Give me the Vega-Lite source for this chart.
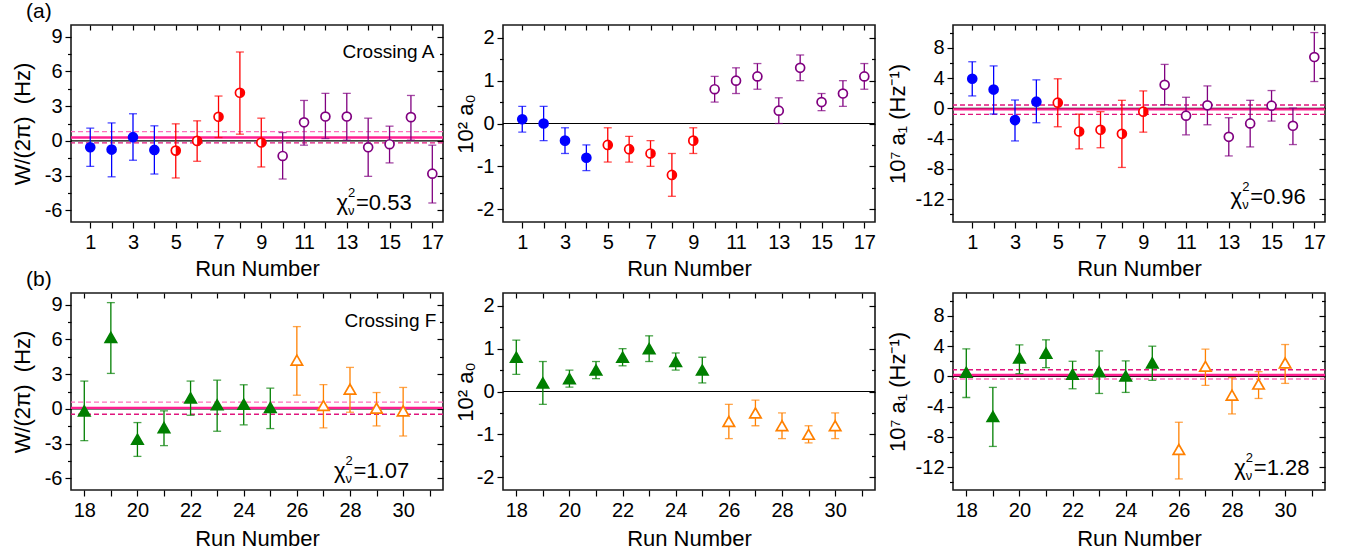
{
  "$schema": "https://vega.github.io/schema/vega-lite/v6.json",
  "background": "white",
  "padding": {"left": 10, "top": 0, "right": 5, "bottom": 2},
  "datasets": {
    "runs": [
      {"panel": "W", "run": 1, "set": "A1", "v": -0.55, "lo": -2.2, "hi": 1.1},
      {"panel": "W", "run": 2, "set": "A1", "v": -0.75, "lo": -3.1, "hi": 1.55},
      {"panel": "W", "run": 3, "set": "A1", "v": 0.32, "lo": -1.67, "hi": 2.34},
      {"panel": "W", "run": 4, "set": "A1", "v": -0.78, "lo": -2.86, "hi": 1.3},
      {"panel": "W", "run": 5, "set": "A2", "v": -0.84, "lo": -3.2, "hi": 1.47},
      {"panel": "W", "run": 6, "set": "A2", "v": 0.0, "lo": -1.76, "hi": 1.73},
      {"panel": "W", "run": 7, "set": "A2", "v": 2.08, "lo": 0.29, "hi": 3.87},
      {"panel": "W", "run": 8, "set": "A2", "v": 4.15, "lo": 0.58, "hi": 7.67},
      {"panel": "W", "run": 9, "set": "A2", "v": -0.14, "lo": -2.25, "hi": 1.96},
      {"panel": "W", "run": 10, "set": "A3", "v": -1.3, "lo": -3.29, "hi": 0.72},
      {"panel": "W", "run": 11, "set": "A3", "v": 1.6, "lo": -0.37, "hi": 3.49},
      {"panel": "W", "run": 12, "set": "A3", "v": 2.1, "lo": 0.2, "hi": 4.1},
      {"panel": "W", "run": 13, "set": "A3", "v": 2.1, "lo": 0.06, "hi": 4.1},
      {"panel": "W", "run": 14, "set": "A3", "v": -0.55, "lo": -3.06, "hi": 1.96},
      {"panel": "W", "run": 15, "set": "A3", "v": -0.29, "lo": -1.9, "hi": 1.27},
      {"panel": "W", "run": 16, "set": "A3", "v": 2.05, "lo": 0.06, "hi": 3.92},
      {"panel": "W", "run": 17, "set": "A3", "v": -2.83, "lo": -5.36, "hi": -0.37},
      {"panel": "W", "run": 18, "set": "F1", "v": -0.17, "lo": -2.74, "hi": 2.4},
      {"panel": "W", "run": 19, "set": "F1", "v": 6.17, "lo": 3.06, "hi": 9.17},
      {"panel": "W", "run": 20, "set": "F1", "v": -2.62, "lo": -4.1, "hi": -1.18},
      {"panel": "W", "run": 21, "set": "F1", "v": -1.62, "lo": -3.17, "hi": -0.17},
      {"panel": "W", "run": 22, "set": "F1", "v": 0.95, "lo": -0.55, "hi": 2.4},
      {"panel": "W", "run": 23, "set": "F1", "v": 0.35, "lo": -1.93, "hi": 2.48},
      {"panel": "W", "run": 24, "set": "F1", "v": 0.4, "lo": -1.38, "hi": 2.08},
      {"panel": "W", "run": 25, "set": "F1", "v": 0.12, "lo": -1.7, "hi": 1.79},
      {"panel": "W", "run": 26, "set": "F2", "v": 4.21, "lo": 1.18, "hi": 7.1},
      {"panel": "W", "run": 27, "set": "F2", "v": 0.29, "lo": -1.64, "hi": 2.1},
      {"panel": "W", "run": 28, "set": "F2", "v": 1.7, "lo": -0.29, "hi": 3.58},
      {"panel": "W", "run": 29, "set": "F2", "v": 0.06, "lo": -1.47, "hi": 1.41},
      {"panel": "W", "run": 30, "set": "F2", "v": -0.17, "lo": -2.34, "hi": 1.85},
      {"panel": "a0", "run": 1, "set": "A1", "v": 0.1, "lo": -0.2, "hi": 0.4},
      {"panel": "a0", "run": 2, "set": "A1", "v": 0.0, "lo": -0.4, "hi": 0.4},
      {"panel": "a0", "run": 3, "set": "A1", "v": -0.4, "lo": -0.7, "hi": -0.1},
      {"panel": "a0", "run": 4, "set": "A1", "v": -0.8, "lo": -1.1, "hi": -0.5},
      {"panel": "a0", "run": 5, "set": "A2", "v": -0.5, "lo": -0.9, "hi": -0.1},
      {"panel": "a0", "run": 6, "set": "A2", "v": -0.6, "lo": -0.9, "hi": -0.3},
      {"panel": "a0", "run": 7, "set": "A2", "v": -0.7, "lo": -1.0, "hi": -0.4},
      {"panel": "a0", "run": 8, "set": "A2", "v": -1.2, "lo": -1.7, "hi": -0.7},
      {"panel": "a0", "run": 9, "set": "A2", "v": -0.4, "lo": -0.7, "hi": -0.1},
      {"panel": "a0", "run": 10, "set": "A3", "v": 0.8, "lo": 0.5, "hi": 1.1},
      {"panel": "a0", "run": 11, "set": "A3", "v": 1.0, "lo": 0.7, "hi": 1.3},
      {"panel": "a0", "run": 12, "set": "A3", "v": 1.1, "lo": 0.8, "hi": 1.4},
      {"panel": "a0", "run": 13, "set": "A3", "v": 0.3, "lo": 0.0, "hi": 0.6},
      {"panel": "a0", "run": 14, "set": "A3", "v": 1.3, "lo": 1.0, "hi": 1.6},
      {"panel": "a0", "run": 15, "set": "A3", "v": 0.5, "lo": 0.3, "hi": 0.7},
      {"panel": "a0", "run": 16, "set": "A3", "v": 0.7, "lo": 0.4, "hi": 1.0},
      {"panel": "a0", "run": 17, "set": "A3", "v": 1.1, "lo": 0.8, "hi": 1.4},
      {"panel": "a0", "run": 18, "set": "F1", "v": 0.8, "lo": 0.4, "hi": 1.2},
      {"panel": "a0", "run": 19, "set": "F1", "v": 0.2, "lo": -0.3, "hi": 0.7},
      {"panel": "a0", "run": 20, "set": "F1", "v": 0.3, "lo": 0.1, "hi": 0.5},
      {"panel": "a0", "run": 21, "set": "F1", "v": 0.5, "lo": 0.3, "hi": 0.7},
      {"panel": "a0", "run": 22, "set": "F1", "v": 0.8, "lo": 0.6, "hi": 1.0},
      {"panel": "a0", "run": 23, "set": "F1", "v": 1.0, "lo": 0.7, "hi": 1.3},
      {"panel": "a0", "run": 24, "set": "F1", "v": 0.7, "lo": 0.5, "hi": 0.9},
      {"panel": "a0", "run": 25, "set": "F1", "v": 0.5, "lo": 0.2, "hi": 0.8},
      {"panel": "a0", "run": 26, "set": "F2", "v": -0.7, "lo": -1.1, "hi": -0.3},
      {"panel": "a0", "run": 27, "set": "F2", "v": -0.5, "lo": -0.8, "hi": -0.2},
      {"panel": "a0", "run": 28, "set": "F2", "v": -0.8, "lo": -1.1, "hi": -0.5},
      {"panel": "a0", "run": 29, "set": "F2", "v": -1.0, "lo": -1.2, "hi": -0.8},
      {"panel": "a0", "run": 30, "set": "F2", "v": -0.8, "lo": -1.1, "hi": -0.5},
      {"panel": "a1", "run": 1, "set": "A1", "v": 3.9, "lo": 1.64, "hi": 6.15},
      {"panel": "a1", "run": 2, "set": "A1", "v": 2.48, "lo": -0.75, "hi": 5.6},
      {"panel": "a1", "run": 3, "set": "A1", "v": -1.55, "lo": -4.3, "hi": 1.1},
      {"panel": "a1", "run": 4, "set": "A1", "v": 0.88, "lo": -1.9, "hi": 3.76},
      {"panel": "a1", "run": 5, "set": "A2", "v": 0.75, "lo": -2.43, "hi": 3.9},
      {"panel": "a1", "run": 6, "set": "A2", "v": -3.05, "lo": -5.35, "hi": -0.75},
      {"panel": "a1", "run": 7, "set": "A2", "v": -2.83, "lo": -5.2, "hi": -0.44},
      {"panel": "a1", "run": 8, "set": "A2", "v": -3.36, "lo": -7.8, "hi": 1.06},
      {"panel": "a1", "run": 9, "set": "A2", "v": -0.44, "lo": -3.14, "hi": 2.3},
      {"panel": "a1", "run": 10, "set": "A3", "v": 3.1, "lo": 0.49, "hi": 5.8},
      {"panel": "a1", "run": 11, "set": "A3", "v": -0.97, "lo": -3.5, "hi": 1.46},
      {"panel": "a1", "run": 12, "set": "A3", "v": 0.4, "lo": -2.17, "hi": 2.96},
      {"panel": "a1", "run": 13, "set": "A3", "v": -3.76, "lo": -6.28, "hi": -1.24},
      {"panel": "a1", "run": 14, "set": "A3", "v": -1.99, "lo": -5.09, "hi": 1.06},
      {"panel": "a1", "run": 15, "set": "A3", "v": 0.35, "lo": -1.68, "hi": 2.35},
      {"panel": "a1", "run": 16, "set": "A3", "v": -2.3, "lo": -4.78, "hi": 0.04},
      {"panel": "a1", "run": 17, "set": "A3", "v": 6.77, "lo": 3.54, "hi": 10.0},
      {"panel": "a1", "run": 18, "set": "F1", "v": 0.53, "lo": -2.79, "hi": 3.63},
      {"panel": "a1", "run": 19, "set": "F1", "v": -5.3, "lo": -9.25, "hi": -1.46},
      {"panel": "a1", "run": 20, "set": "F1", "v": 2.43, "lo": 0.35, "hi": 4.16},
      {"panel": "a1", "run": 21, "set": "F1", "v": 3.05, "lo": 1.15, "hi": 4.82},
      {"panel": "a1", "run": 22, "set": "F1", "v": 0.27, "lo": -1.64, "hi": 1.99},
      {"panel": "a1", "run": 23, "set": "F1", "v": 0.62, "lo": -2.26, "hi": 3.36},
      {"panel": "a1", "run": 24, "set": "F1", "v": 0.04, "lo": -2.12, "hi": 2.04},
      {"panel": "a1", "run": 25, "set": "F1", "v": 1.77, "lo": -0.53, "hi": 3.98},
      {"panel": "a1", "run": 26, "set": "F2", "v": -9.65, "lo": -13.54, "hi": -6.06},
      {"panel": "a1", "run": 27, "set": "F2", "v": 1.33, "lo": -1.19, "hi": 3.58},
      {"panel": "a1", "run": 28, "set": "F2", "v": -2.48, "lo": -4.96, "hi": -0.18},
      {"panel": "a1", "run": 29, "set": "F2", "v": -1.02, "lo": -2.92, "hi": 0.62},
      {"panel": "a1", "run": 30, "set": "F2", "v": 1.77, "lo": -0.93, "hi": 4.2}
    ],
    "lines": [
      {"panel": "W", "row": "A", "kind": "zero", "v": 0},
      {"panel": "W", "row": "A", "kind": "fit", "v": 0.29},
      {"panel": "W", "row": "A", "kind": "hi", "v": 0.8},
      {"panel": "W", "row": "A", "kind": "lo", "v": -0.17},
      {"panel": "a0", "row": "A", "kind": "zero", "v": 0},
      {"panel": "a1", "row": "A", "kind": "zero", "v": 0},
      {"panel": "a1", "row": "A", "kind": "fit", "v": -0.13},
      {"panel": "a1", "row": "A", "kind": "hi", "v": 0.44},
      {"panel": "a1", "row": "A", "kind": "lo", "v": -0.8},
      {"panel": "W", "row": "F", "kind": "zero", "v": 0},
      {"panel": "W", "row": "F", "kind": "fit", "v": 0.09},
      {"panel": "W", "row": "F", "kind": "hi", "v": 0.58},
      {"panel": "W", "row": "F", "kind": "lo", "v": -0.46},
      {"panel": "a0", "row": "F", "kind": "zero", "v": 0},
      {"panel": "a1", "row": "F", "kind": "zero", "v": 0},
      {"panel": "a1", "row": "F", "kind": "fit", "v": 0.18},
      {"panel": "a1", "row": "F", "kind": "hi", "v": 0.88},
      {"panel": "a1", "row": "F", "kind": "lo", "v": -0.35}
    ],
    "notes": [
      {"panel": "W", "row": "A", "kind": "label", "x": 17.1, "y": 7.7, "text": "Crossing A"},
      {"panel": "W", "row": "F", "kind": "label", "x": 31.25, "y": 7.6, "text": "Crossing F"},
      {"panel": "W", "row": "A", "kind": "chi", "x": 13.43, "y": -5.4, "text": "=0.53"},
      {"panel": "a1", "row": "A", "kind": "chi", "x": 14.0, "y": -11.7, "text": "=0.96"},
      {"panel": "W", "row": "F", "kind": "chi", "x": 28.13, "y": -5.37, "text": "=1.07"},
      {"panel": "a1", "row": "F", "kind": "chi", "x": 28.82, "y": -12.08, "text": "=1.28"}
    ]
  },
  "config": {
    "font": "Liberation Sans",
    "view": {"stroke": "#1a1a1a", "strokeWidth": 1.6},
    "axis": {
      "domain": false, "grid": false,
      "labelFont": "Liberation Sans", "labelFontSize": 20, "labelColor": "#000000",
      "titleFont": "Liberation Sans", "titleFontSize": 22, "titleFontWeight": "normal", "titleColor": "#000000",
      "tickColor": "#000000", "tickWidth": 1.2, "labelOverlap": false
    },
    "title": {"font": "Liberation Sans", "fontSize": 21, "fontWeight": "normal", "color": "#000000"},
    "text": {"font": "Liberation Sans", "color": "#000000"}
  },
  "columns": 3,
  "spacing": {"row": -12, "column": 8},
  "concat": [
    {
      "width": 372, "height": 197,
      "title": {"text": "(a)", "anchor": "start", "frame": "group", "dx": -45, "offset": 2},
      "layer": [
        {"data": {"name": "lines"}, "transform": [{"filter": "datum.panel=='W' && datum.row=='A' && datum.kind=='zero'"}], "mark": {"type": "rule", "color": "#000000", "strokeWidth": 1.2}, "encoding": {"y": {"field": "v", "type": "quantitative", "scale": {"domain": [-7, 10], "nice": false, "zero": false}, "axis": null}}},
        {"data": {"name": "lines"}, "transform": [{"filter": "datum.panel=='W' && datum.row=='A' && datum.kind=='fit'"}], "mark": {"type": "rule", "color": "#ff2090", "strokeWidth": 2.4}, "encoding": {"y": {"field": "v", "type": "quantitative", "axis": null}}},
        {"data": {"name": "lines"}, "transform": [{"filter": "datum.panel=='W' && datum.row=='A' && datum.kind=='hi'"}], "mark": {"type": "rule", "color": "#ff70bd", "strokeWidth": 1.4, "strokeDash": [5, 3]}, "encoding": {"y": {"field": "v", "type": "quantitative", "axis": null}}},
        {"data": {"name": "lines"}, "transform": [{"filter": "datum.panel=='W' && datum.row=='A' && datum.kind=='lo'"}], "mark": {"type": "rule", "color": "#e0167e", "strokeWidth": 1.4, "strokeDash": [5, 3]}, "encoding": {"y": {"field": "v", "type": "quantitative", "axis": null}}},
        {"data": {"name": "runs"}, "transform": [{"filter": "datum.panel=='W' && datum.run<=17"}], "mark": {"type": "rule", "strokeWidth": 1.3},
          "encoding": {
            "x": {"field": "run", "type": "quantitative", "scale": {"domain": [0.1, 17.5], "nice": false, "zero": false}, "axis": {"orient": "top", "values": [1,2,3,4,5,6,7,8,9,10,11,12,13,14,15,16,17], "labels": false, "title": null, "tickSize": -5}},
            "y": {"field": "lo", "type": "quantitative", "axis": {"orient": "right", "values": [-6,-4.5,-3,-1.5,0,1.5,3,4.5,6,7.5,9], "labels": false, "title": null, "tickSize": {"condition": {"test": "datum.value % 3 != 0", "value": -3.5}, "value": -6}}},
            "y2": {"field": "hi"},
            "color": {"field": "set", "type": "nominal", "scale": {"domain": ["A1","A2","A3","F1","F2"], "range": ["#0000ff","#ff0000","#800080","#007f00","#ff8000"]}, "legend": null}
          }},
        {"data": {"name": "runs"}, "transform": [{"filter": "datum.panel=='W' && datum.run<=17"}], "mark": {"type": "tick", "orient": "horizontal", "size": 8, "thickness": 1.3},
          "encoding": {"x": {"field": "run", "type": "quantitative", "axis": null}, "y": {"field": "lo", "type": "quantitative", "axis": null}, "color": {"field": "set", "type": "nominal", "legend": null}}},
        {"data": {"name": "runs"}, "transform": [{"filter": "datum.panel=='W' && datum.run<=17"}], "mark": {"type": "tick", "orient": "horizontal", "size": 8, "thickness": 1.3},
          "encoding": {"x": {"field": "run", "type": "quantitative", "axis": null}, "y": {"field": "hi", "type": "quantitative", "axis": null}, "color": {"field": "set", "type": "nominal", "legend": null}}},
        {"data": {"name": "runs"}, "transform": [{"filter": "datum.panel=='W' && datum.run<=17"}], "mark": {"type": "point", "filled": true, "strokeWidth": 1.7, "opacity": 1},
          "encoding": {
            "x": {"field": "run", "type": "quantitative", "axis": {"orient": "bottom", "values": [1,2,3,4,5,6,7,8,9,10,11,12,13,14,15,16,17], "labelExpr": "datum.value % 2 == 1 ? toString(datum.value) : ''", "title": "Run Number", "tickSize": 6, "labelPadding": 4, "titlePadding": 6}},
            "y": {"field": "v", "type": "quantitative", "axis": {"orient": "left", "values": [-6,-4.5,-3,-1.5,0,1.5,3,4.5,6,7.5,9], "labelExpr": "datum.value % 3 == 0 ? toString(datum.value) : ''", "title": "W/(2π)\u00a0\u00a0(Hz)", "tickSize": {"condition": {"test": "datum.value % 3 != 0", "value": 3.5}, "value": 6}, "labelPadding": 3, "titlePadding": 10}},
            "shape": {"condition": {"test": "datum.run >= 18", "value": "triangle-up"}, "value": "circle"},
            "size": {"condition": {"test": "datum.run >= 18", "value": 130}, "value": 80},
            "fill": {"field": "set", "type": "nominal", "scale": {"domain": ["A1","A2","A3","F1","F2"], "range": ["#0000ff","#ffffff","#ffffff","#007f00","#ffffff"]}, "legend": null},
            "stroke": {"field": "set", "type": "nominal", "scale": {"domain": ["A1","A2","A3","F1","F2"], "range": ["#0000ff","#ff0000","#800080","#007f00","#ff8000"]}, "legend": null}
          }},
        {"data": {"name": "runs"}, "transform": [{"filter": "datum.panel=='W' && datum.set=='A2'"}], "mark": {"type": "point", "shape": "M0,-1L0.259,-0.966L0.5,-0.866L0.707,-0.707L0.866,-0.5L0.966,-0.259L1,0L0.966,0.259L0.866,0.5L0.707,0.707L0.5,0.866L0.259,0.966L0,1Z", "filled": true, "color": "#ff0000", "size": 80, "strokeWidth": 0, "opacity": 1},
          "encoding": {"x": {"field": "run", "type": "quantitative", "axis": null}, "y": {"field": "v", "type": "quantitative", "axis": null}}},
        {"data": {"name": "notes"}, "transform": [{"filter": "datum.panel=='W' && datum.row=='A' && datum.kind=='label'"}], "mark": {"type": "text", "align": "right", "baseline": "middle", "fontSize": 19},
          "encoding": {"x": {"field": "x", "type": "quantitative", "axis": null}, "y": {"field": "y", "type": "quantitative", "axis": null}, "text": {"field": "text"}}},
        {"data": {"name": "notes"}, "transform": [{"filter": "datum.panel=='W' && datum.row=='A' && datum.kind=='chi'"}], "mark": {"type": "text", "align": "left", "baseline": "middle", "fontSize": 22},
          "encoding": {"x": {"field": "x", "type": "quantitative", "axis": null}, "y": {"field": "y", "type": "quantitative", "axis": null}, "text": {"field": "text"}}},
        {"data": {"name": "notes"}, "transform": [{"filter": "datum.panel=='W' && datum.row=='A' && datum.kind=='chi'"}], "mark": {"type": "text", "align": "right", "baseline": "middle", "fontSize": 22, "dx": -8},
          "encoding": {"x": {"field": "x", "type": "quantitative", "axis": null}, "y": {"field": "y", "type": "quantitative", "axis": null}, "text": {"value": "χ"}}},
        {"data": {"name": "notes"}, "transform": [{"filter": "datum.panel=='W' && datum.row=='A' && datum.kind=='chi'"}], "mark": {"type": "text", "align": "left", "baseline": "middle", "fontSize": 13, "dx": -8, "dy": -10},
          "encoding": {"x": {"field": "x", "type": "quantitative", "axis": null}, "y": {"field": "y", "type": "quantitative", "axis": null}, "text": {"value": "2"}}},
        {"data": {"name": "notes"}, "transform": [{"filter": "datum.panel=='W' && datum.row=='A' && datum.kind=='chi'"}], "mark": {"type": "text", "align": "left", "baseline": "middle", "fontSize": 13, "dx": -8, "dy": 8},
          "encoding": {"x": {"field": "x", "type": "quantitative", "axis": null}, "y": {"field": "y", "type": "quantitative", "axis": null}, "text": {"value": "ν"}}}
      ],
      "resolve": {"axis": {"x": "independent", "y": "independent"}}
    },
    {
      "width": 372, "height": 197,
      "layer": [
        {"data": {"name": "lines"}, "transform": [{"filter": "datum.panel=='a0' && datum.row=='A' && datum.kind=='zero'"}], "mark": {"type": "rule", "color": "#000000", "strokeWidth": 1.2}, "encoding": {"y": {"field": "v", "type": "quantitative", "scale": {"domain": [-2.3, 2.3], "nice": false, "zero": false}, "axis": null}}},
        {"data": {"name": "runs"}, "transform": [{"filter": "datum.panel=='a0' && datum.run<=17"}], "mark": {"type": "rule", "strokeWidth": 1.3},
          "encoding": {
            "x": {"field": "run", "type": "quantitative", "scale": {"domain": [0.1, 17.5], "nice": false, "zero": false}, "axis": {"orient": "top", "values": [1,2,3,4,5,6,7,8,9,10,11,12,13,14,15,16,17], "labels": false, "title": null, "tickSize": -5}},
            "y": {"field": "lo", "type": "quantitative", "axis": {"orient": "right", "values": [-2,-1.5,-1,-0.5,0,0.5,1,1.5,2], "labels": false, "title": null, "tickSize": {"condition": {"test": "datum.value % 1 != 0", "value": -3.5}, "value": -6}}},
            "y2": {"field": "hi"},
            "color": {"field": "set", "type": "nominal", "scale": {"domain": ["A1","A2","A3","F1","F2"], "range": ["#0000ff","#ff0000","#800080","#007f00","#ff8000"]}, "legend": null}
          }},
        {"data": {"name": "runs"}, "transform": [{"filter": "datum.panel=='a0' && datum.run<=17"}], "mark": {"type": "tick", "orient": "horizontal", "size": 8, "thickness": 1.3},
          "encoding": {"x": {"field": "run", "type": "quantitative", "axis": null}, "y": {"field": "lo", "type": "quantitative", "axis": null}, "color": {"field": "set", "type": "nominal", "legend": null}}},
        {"data": {"name": "runs"}, "transform": [{"filter": "datum.panel=='a0' && datum.run<=17"}], "mark": {"type": "tick", "orient": "horizontal", "size": 8, "thickness": 1.3},
          "encoding": {"x": {"field": "run", "type": "quantitative", "axis": null}, "y": {"field": "hi", "type": "quantitative", "axis": null}, "color": {"field": "set", "type": "nominal", "legend": null}}},
        {"data": {"name": "runs"}, "transform": [{"filter": "datum.panel=='a0' && datum.run<=17"}], "mark": {"type": "point", "filled": true, "strokeWidth": 1.7, "opacity": 1},
          "encoding": {
            "x": {"field": "run", "type": "quantitative", "axis": {"orient": "bottom", "values": [1,2,3,4,5,6,7,8,9,10,11,12,13,14,15,16,17], "labelExpr": "datum.value % 2 == 1 ? toString(datum.value) : ''", "title": "Run Number", "tickSize": 6, "labelPadding": 4, "titlePadding": 6}},
            "y": {"field": "v", "type": "quantitative", "axis": {"orient": "left", "values": [-2,-1.5,-1,-0.5,0,0.5,1,1.5,2], "labelExpr": "datum.value % 1 == 0 ? toString(datum.value) : ''", "title": "10² a₀", "tickSize": {"condition": {"test": "datum.value % 1 != 0", "value": 3.5}, "value": 6}, "labelPadding": 3, "titlePadding": -1}},
            "shape": {"condition": {"test": "datum.run >= 18", "value": "triangle-up"}, "value": "circle"},
            "size": {"condition": {"test": "datum.run >= 18", "value": 130}, "value": 80},
            "fill": {"field": "set", "type": "nominal", "scale": {"domain": ["A1","A2","A3","F1","F2"], "range": ["#0000ff","#ffffff","#ffffff","#007f00","#ffffff"]}, "legend": null},
            "stroke": {"field": "set", "type": "nominal", "scale": {"domain": ["A1","A2","A3","F1","F2"], "range": ["#0000ff","#ff0000","#800080","#007f00","#ff8000"]}, "legend": null}
          }},
        {"data": {"name": "runs"}, "transform": [{"filter": "datum.panel=='a0' && datum.set=='A2'"}], "mark": {"type": "point", "shape": "M0,-1L0.259,-0.966L0.5,-0.866L0.707,-0.707L0.866,-0.5L0.966,-0.259L1,0L0.966,0.259L0.866,0.5L0.707,0.707L0.5,0.866L0.259,0.966L0,1Z", "filled": true, "color": "#ff0000", "size": 80, "strokeWidth": 0, "opacity": 1},
          "encoding": {"x": {"field": "run", "type": "quantitative", "axis": null}, "y": {"field": "v", "type": "quantitative", "axis": null}}}
      ],
      "resolve": {"axis": {"x": "independent", "y": "independent"}}
    },
    {
      "width": 372, "height": 197,
      "layer": [
        {"data": {"name": "lines"}, "transform": [{"filter": "datum.panel=='a1' && datum.row=='A' && datum.kind=='zero'"}], "mark": {"type": "rule", "color": "#000000", "strokeWidth": 1.2}, "encoding": {"y": {"field": "v", "type": "quantitative", "scale": {"domain": [-15, 11], "nice": false, "zero": false}, "axis": null}}},
        {"data": {"name": "lines"}, "transform": [{"filter": "datum.panel=='a1' && datum.row=='A' && datum.kind=='fit'"}], "mark": {"type": "rule", "color": "#ff2090", "strokeWidth": 2.4}, "encoding": {"y": {"field": "v", "type": "quantitative", "axis": null}}},
        {"data": {"name": "lines"}, "transform": [{"filter": "datum.panel=='a1' && datum.row=='A' && datum.kind=='hi'"}], "mark": {"type": "rule", "color": "#e0167e", "strokeWidth": 1.4, "strokeDash": [5, 3]}, "encoding": {"y": {"field": "v", "type": "quantitative", "axis": null}}},
        {"data": {"name": "lines"}, "transform": [{"filter": "datum.panel=='a1' && datum.row=='A' && datum.kind=='lo'"}], "mark": {"type": "rule", "color": "#e0167e", "strokeWidth": 1.4, "strokeDash": [5, 3]}, "encoding": {"y": {"field": "v", "type": "quantitative", "axis": null}}},
        {"data": {"name": "runs"}, "transform": [{"filter": "datum.panel=='a1' && datum.run<=17"}], "mark": {"type": "rule", "strokeWidth": 1.3},
          "encoding": {
            "x": {"field": "run", "type": "quantitative", "scale": {"domain": [0.1, 17.5], "nice": false, "zero": false}, "axis": {"orient": "top", "values": [1,2,3,4,5,6,7,8,9,10,11,12,13,14,15,16,17], "labels": false, "title": null, "tickSize": -5}},
            "y": {"field": "lo", "type": "quantitative", "axis": {"orient": "right", "values": [-14,-12,-10,-8,-6,-4,-2,0,2,4,6,8,10], "labels": false, "title": null, "tickSize": {"condition": {"test": "datum.value % 4 != 0", "value": -3.5}, "value": -6}}},
            "y2": {"field": "hi"},
            "color": {"field": "set", "type": "nominal", "scale": {"domain": ["A1","A2","A3","F1","F2"], "range": ["#0000ff","#ff0000","#800080","#007f00","#ff8000"]}, "legend": null}
          }},
        {"data": {"name": "runs"}, "transform": [{"filter": "datum.panel=='a1' && datum.run<=17"}], "mark": {"type": "tick", "orient": "horizontal", "size": 8, "thickness": 1.3},
          "encoding": {"x": {"field": "run", "type": "quantitative", "axis": null}, "y": {"field": "lo", "type": "quantitative", "axis": null}, "color": {"field": "set", "type": "nominal", "legend": null}}},
        {"data": {"name": "runs"}, "transform": [{"filter": "datum.panel=='a1' && datum.run<=17"}], "mark": {"type": "tick", "orient": "horizontal", "size": 8, "thickness": 1.3},
          "encoding": {"x": {"field": "run", "type": "quantitative", "axis": null}, "y": {"field": "hi", "type": "quantitative", "axis": null}, "color": {"field": "set", "type": "nominal", "legend": null}}},
        {"data": {"name": "runs"}, "transform": [{"filter": "datum.panel=='a1' && datum.run<=17"}], "mark": {"type": "point", "filled": true, "strokeWidth": 1.7, "opacity": 1},
          "encoding": {
            "x": {"field": "run", "type": "quantitative", "axis": {"orient": "bottom", "values": [1,2,3,4,5,6,7,8,9,10,11,12,13,14,15,16,17], "labelExpr": "datum.value % 2 == 1 ? toString(datum.value) : ''", "title": "Run Number", "tickSize": 6, "labelPadding": 4, "titlePadding": 6}},
            "y": {"field": "v", "type": "quantitative", "axis": {"orient": "left", "values": [-14,-12,-10,-8,-6,-4,-2,0,2,4,6,8,10], "labelExpr": "datum.value % 4 == 0 ? toString(datum.value) : ''", "title": "10⁷ a₁ (Hz⁻¹)", "tickSize": {"condition": {"test": "datum.value % 4 != 0", "value": 3.5}, "value": 6}, "labelPadding": 3, "titlePadding": 6}},
            "shape": {"condition": {"test": "datum.run >= 18", "value": "triangle-up"}, "value": "circle"},
            "size": {"condition": {"test": "datum.run >= 18", "value": 130}, "value": 80},
            "fill": {"field": "set", "type": "nominal", "scale": {"domain": ["A1","A2","A3","F1","F2"], "range": ["#0000ff","#ffffff","#ffffff","#007f00","#ffffff"]}, "legend": null},
            "stroke": {"field": "set", "type": "nominal", "scale": {"domain": ["A1","A2","A3","F1","F2"], "range": ["#0000ff","#ff0000","#800080","#007f00","#ff8000"]}, "legend": null}
          }},
        {"data": {"name": "runs"}, "transform": [{"filter": "datum.panel=='a1' && datum.set=='A2'"}], "mark": {"type": "point", "shape": "M0,-1L0.259,-0.966L0.5,-0.866L0.707,-0.707L0.866,-0.5L0.966,-0.259L1,0L0.966,0.259L0.866,0.5L0.707,0.707L0.5,0.866L0.259,0.966L0,1Z", "filled": true, "color": "#ff0000", "size": 80, "strokeWidth": 0, "opacity": 1},
          "encoding": {"x": {"field": "run", "type": "quantitative", "axis": null}, "y": {"field": "v", "type": "quantitative", "axis": null}}},
        {"data": {"name": "notes"}, "transform": [{"filter": "datum.panel=='a1' && datum.row=='A' && datum.kind=='chi'"}], "mark": {"type": "text", "align": "left", "baseline": "middle", "fontSize": 22},
          "encoding": {"x": {"field": "x", "type": "quantitative", "axis": null}, "y": {"field": "y", "type": "quantitative", "axis": null}, "text": {"field": "text"}}},
        {"data": {"name": "notes"}, "transform": [{"filter": "datum.panel=='a1' && datum.row=='A' && datum.kind=='chi'"}], "mark": {"type": "text", "align": "right", "baseline": "middle", "fontSize": 22, "dx": -8},
          "encoding": {"x": {"field": "x", "type": "quantitative", "axis": null}, "y": {"field": "y", "type": "quantitative", "axis": null}, "text": {"value": "χ"}}},
        {"data": {"name": "notes"}, "transform": [{"filter": "datum.panel=='a1' && datum.row=='A' && datum.kind=='chi'"}], "mark": {"type": "text", "align": "left", "baseline": "middle", "fontSize": 13, "dx": -8, "dy": -10},
          "encoding": {"x": {"field": "x", "type": "quantitative", "axis": null}, "y": {"field": "y", "type": "quantitative", "axis": null}, "text": {"value": "2"}}},
        {"data": {"name": "notes"}, "transform": [{"filter": "datum.panel=='a1' && datum.row=='A' && datum.kind=='chi'"}], "mark": {"type": "text", "align": "left", "baseline": "middle", "fontSize": 13, "dx": -8, "dy": 8},
          "encoding": {"x": {"field": "x", "type": "quantitative", "axis": null}, "y": {"field": "y", "type": "quantitative", "axis": null}, "text": {"value": "ν"}}}
      ],
      "resolve": {"axis": {"x": "independent", "y": "independent"}}
    },
    {
      "width": 372, "height": 197,
      "title": {"text": "(b)", "anchor": "start", "frame": "group", "dx": -45, "offset": 2},
      "layer": [
        {"data": {"name": "lines"}, "transform": [{"filter": "datum.panel=='W' && datum.row=='F' && datum.kind=='zero'"}], "mark": {"type": "rule", "color": "#000000", "strokeWidth": 1.2}, "encoding": {"y": {"field": "v", "type": "quantitative", "scale": {"domain": [-7, 10], "nice": false, "zero": false}, "axis": null}}},
        {"data": {"name": "lines"}, "transform": [{"filter": "datum.panel=='W' && datum.row=='F' && datum.kind=='fit'"}], "mark": {"type": "rule", "color": "#ff2090", "strokeWidth": 2.4}, "encoding": {"y": {"field": "v", "type": "quantitative", "axis": null}}},
        {"data": {"name": "lines"}, "transform": [{"filter": "datum.panel=='W' && datum.row=='F' && datum.kind=='hi'"}], "mark": {"type": "rule", "color": "#ff70bd", "strokeWidth": 1.4, "strokeDash": [5, 3]}, "encoding": {"y": {"field": "v", "type": "quantitative", "axis": null}}},
        {"data": {"name": "lines"}, "transform": [{"filter": "datum.panel=='W' && datum.row=='F' && datum.kind=='lo'"}], "mark": {"type": "rule", "color": "#e0167e", "strokeWidth": 1.4, "strokeDash": [5, 3]}, "encoding": {"y": {"field": "v", "type": "quantitative", "axis": null}}},
        {"data": {"name": "runs"}, "transform": [{"filter": "datum.panel=='W' && datum.run>=18"}], "mark": {"type": "rule", "strokeWidth": 1.3},
          "encoding": {
            "x": {"field": "run", "type": "quantitative", "scale": {"domain": [17.5, 31.5], "nice": false, "zero": false}, "axis": {"orient": "top", "values": [18,19,20,21,22,23,24,25,26,27,28,29,30,31], "labels": false, "title": null, "tickSize": -5}},
            "y": {"field": "lo", "type": "quantitative", "axis": {"orient": "right", "values": [-6,-4.5,-3,-1.5,0,1.5,3,4.5,6,7.5,9], "labels": false, "title": null, "tickSize": {"condition": {"test": "datum.value % 3 != 0", "value": -3.5}, "value": -6}}},
            "y2": {"field": "hi"},
            "color": {"field": "set", "type": "nominal", "scale": {"domain": ["A1","A2","A3","F1","F2"], "range": ["#0000ff","#ff0000","#800080","#007f00","#ff8000"]}, "legend": null}
          }},
        {"data": {"name": "runs"}, "transform": [{"filter": "datum.panel=='W' && datum.run>=18"}], "mark": {"type": "tick", "orient": "horizontal", "size": 8, "thickness": 1.3},
          "encoding": {"x": {"field": "run", "type": "quantitative", "axis": null}, "y": {"field": "lo", "type": "quantitative", "axis": null}, "color": {"field": "set", "type": "nominal", "legend": null}}},
        {"data": {"name": "runs"}, "transform": [{"filter": "datum.panel=='W' && datum.run>=18"}], "mark": {"type": "tick", "orient": "horizontal", "size": 8, "thickness": 1.3},
          "encoding": {"x": {"field": "run", "type": "quantitative", "axis": null}, "y": {"field": "hi", "type": "quantitative", "axis": null}, "color": {"field": "set", "type": "nominal", "legend": null}}},
        {"data": {"name": "runs"}, "transform": [{"filter": "datum.panel=='W' && datum.run>=18"}], "mark": {"type": "point", "filled": true, "strokeWidth": 1.7, "opacity": 1},
          "encoding": {
            "x": {"field": "run", "type": "quantitative", "axis": {"orient": "bottom", "values": [18,19,20,21,22,23,24,25,26,27,28,29,30,31], "labelExpr": "datum.value % 2 == 0 && datum.value <= 30 ? toString(datum.value) : ''", "title": "Run Number", "tickSize": 6, "labelPadding": 4, "titlePadding": 8}},
            "y": {"field": "v", "type": "quantitative", "axis": {"orient": "left", "values": [-6,-4.5,-3,-1.5,0,1.5,3,4.5,6,7.5,9], "labelExpr": "datum.value % 3 == 0 ? toString(datum.value) : ''", "title": "W/(2π)\u00a0\u00a0(Hz)", "tickSize": {"condition": {"test": "datum.value % 3 != 0", "value": 3.5}, "value": 6}, "labelPadding": 3, "titlePadding": 10}},
            "shape": {"condition": {"test": "datum.run >= 18", "value": "triangle-up"}, "value": "circle"},
            "size": {"condition": {"test": "datum.run >= 18", "value": 130}, "value": 80},
            "fill": {"field": "set", "type": "nominal", "scale": {"domain": ["A1","A2","A3","F1","F2"], "range": ["#0000ff","#ffffff","#ffffff","#007f00","#ffffff"]}, "legend": null},
            "stroke": {"field": "set", "type": "nominal", "scale": {"domain": ["A1","A2","A3","F1","F2"], "range": ["#0000ff","#ff0000","#800080","#007f00","#ff8000"]}, "legend": null}
          }},
        {"data": {"name": "notes"}, "transform": [{"filter": "datum.panel=='W' && datum.row=='F' && datum.kind=='label'"}], "mark": {"type": "text", "align": "right", "baseline": "middle", "fontSize": 19},
          "encoding": {"x": {"field": "x", "type": "quantitative", "axis": null}, "y": {"field": "y", "type": "quantitative", "axis": null}, "text": {"field": "text"}}},
        {"data": {"name": "notes"}, "transform": [{"filter": "datum.panel=='W' && datum.row=='F' && datum.kind=='chi'"}], "mark": {"type": "text", "align": "left", "baseline": "middle", "fontSize": 22},
          "encoding": {"x": {"field": "x", "type": "quantitative", "axis": null}, "y": {"field": "y", "type": "quantitative", "axis": null}, "text": {"field": "text"}}},
        {"data": {"name": "notes"}, "transform": [{"filter": "datum.panel=='W' && datum.row=='F' && datum.kind=='chi'"}], "mark": {"type": "text", "align": "right", "baseline": "middle", "fontSize": 22, "dx": -8},
          "encoding": {"x": {"field": "x", "type": "quantitative", "axis": null}, "y": {"field": "y", "type": "quantitative", "axis": null}, "text": {"value": "χ"}}},
        {"data": {"name": "notes"}, "transform": [{"filter": "datum.panel=='W' && datum.row=='F' && datum.kind=='chi'"}], "mark": {"type": "text", "align": "left", "baseline": "middle", "fontSize": 13, "dx": -8, "dy": -10},
          "encoding": {"x": {"field": "x", "type": "quantitative", "axis": null}, "y": {"field": "y", "type": "quantitative", "axis": null}, "text": {"value": "2"}}},
        {"data": {"name": "notes"}, "transform": [{"filter": "datum.panel=='W' && datum.row=='F' && datum.kind=='chi'"}], "mark": {"type": "text", "align": "left", "baseline": "middle", "fontSize": 13, "dx": -8, "dy": 8},
          "encoding": {"x": {"field": "x", "type": "quantitative", "axis": null}, "y": {"field": "y", "type": "quantitative", "axis": null}, "text": {"value": "ν"}}}
      ],
      "resolve": {"axis": {"x": "independent", "y": "independent"}}
    },
    {
      "width": 372, "height": 197,
      "layer": [
        {"data": {"name": "lines"}, "transform": [{"filter": "datum.panel=='a0' && datum.row=='F' && datum.kind=='zero'"}], "mark": {"type": "rule", "color": "#000000", "strokeWidth": 1.2}, "encoding": {"y": {"field": "v", "type": "quantitative", "scale": {"domain": [-2.3, 2.3], "nice": false, "zero": false}, "axis": null}}},
        {"data": {"name": "runs"}, "transform": [{"filter": "datum.panel=='a0' && datum.run>=18"}], "mark": {"type": "rule", "strokeWidth": 1.3},
          "encoding": {
            "x": {"field": "run", "type": "quantitative", "scale": {"domain": [17.5, 31.5], "nice": false, "zero": false}, "axis": {"orient": "top", "values": [18,19,20,21,22,23,24,25,26,27,28,29,30,31], "labels": false, "title": null, "tickSize": -5}},
            "y": {"field": "lo", "type": "quantitative", "axis": {"orient": "right", "values": [-2,-1.5,-1,-0.5,0,0.5,1,1.5,2], "labels": false, "title": null, "tickSize": {"condition": {"test": "datum.value % 1 != 0", "value": -3.5}, "value": -6}}},
            "y2": {"field": "hi"},
            "color": {"field": "set", "type": "nominal", "scale": {"domain": ["A1","A2","A3","F1","F2"], "range": ["#0000ff","#ff0000","#800080","#007f00","#ff8000"]}, "legend": null}
          }},
        {"data": {"name": "runs"}, "transform": [{"filter": "datum.panel=='a0' && datum.run>=18"}], "mark": {"type": "tick", "orient": "horizontal", "size": 8, "thickness": 1.3},
          "encoding": {"x": {"field": "run", "type": "quantitative", "axis": null}, "y": {"field": "lo", "type": "quantitative", "axis": null}, "color": {"field": "set", "type": "nominal", "legend": null}}},
        {"data": {"name": "runs"}, "transform": [{"filter": "datum.panel=='a0' && datum.run>=18"}], "mark": {"type": "tick", "orient": "horizontal", "size": 8, "thickness": 1.3},
          "encoding": {"x": {"field": "run", "type": "quantitative", "axis": null}, "y": {"field": "hi", "type": "quantitative", "axis": null}, "color": {"field": "set", "type": "nominal", "legend": null}}},
        {"data": {"name": "runs"}, "transform": [{"filter": "datum.panel=='a0' && datum.run>=18"}], "mark": {"type": "point", "filled": true, "strokeWidth": 1.7, "opacity": 1},
          "encoding": {
            "x": {"field": "run", "type": "quantitative", "axis": {"orient": "bottom", "values": [18,19,20,21,22,23,24,25,26,27,28,29,30,31], "labelExpr": "datum.value % 2 == 0 && datum.value <= 30 ? toString(datum.value) : ''", "title": "Run Number", "tickSize": 6, "labelPadding": 4, "titlePadding": 8}},
            "y": {"field": "v", "type": "quantitative", "axis": {"orient": "left", "values": [-2,-1.5,-1,-0.5,0,0.5,1,1.5,2], "labelExpr": "datum.value % 1 == 0 ? toString(datum.value) : ''", "title": "10² a₀", "tickSize": {"condition": {"test": "datum.value % 1 != 0", "value": 3.5}, "value": 6}, "labelPadding": 3, "titlePadding": -1}},
            "shape": {"condition": {"test": "datum.run >= 18", "value": "triangle-up"}, "value": "circle"},
            "size": {"condition": {"test": "datum.run >= 18", "value": 130}, "value": 80},
            "fill": {"field": "set", "type": "nominal", "scale": {"domain": ["A1","A2","A3","F1","F2"], "range": ["#0000ff","#ffffff","#ffffff","#007f00","#ffffff"]}, "legend": null},
            "stroke": {"field": "set", "type": "nominal", "scale": {"domain": ["A1","A2","A3","F1","F2"], "range": ["#0000ff","#ff0000","#800080","#007f00","#ff8000"]}, "legend": null}
          }}
      ],
      "resolve": {"axis": {"x": "independent", "y": "independent"}}
    },
    {
      "width": 372, "height": 197,
      "layer": [
        {"data": {"name": "lines"}, "transform": [{"filter": "datum.panel=='a1' && datum.row=='F' && datum.kind=='zero'"}], "mark": {"type": "rule", "color": "#000000", "strokeWidth": 1.2}, "encoding": {"y": {"field": "v", "type": "quantitative", "scale": {"domain": [-15, 11], "nice": false, "zero": false}, "axis": null}}},
        {"data": {"name": "lines"}, "transform": [{"filter": "datum.panel=='a1' && datum.row=='F' && datum.kind=='fit'"}], "mark": {"type": "rule", "color": "#ff2090", "strokeWidth": 2.4}, "encoding": {"y": {"field": "v", "type": "quantitative", "axis": null}}},
        {"data": {"name": "lines"}, "transform": [{"filter": "datum.panel=='a1' && datum.row=='F' && datum.kind=='hi'"}], "mark": {"type": "rule", "color": "#e0167e", "strokeWidth": 1.4, "strokeDash": [5, 3]}, "encoding": {"y": {"field": "v", "type": "quantitative", "axis": null}}},
        {"data": {"name": "lines"}, "transform": [{"filter": "datum.panel=='a1' && datum.row=='F' && datum.kind=='lo'"}], "mark": {"type": "rule", "color": "#ff70bd", "strokeWidth": 1.4, "strokeDash": [5, 3]}, "encoding": {"y": {"field": "v", "type": "quantitative", "axis": null}}},
        {"data": {"name": "runs"}, "transform": [{"filter": "datum.panel=='a1' && datum.run>=18"}], "mark": {"type": "rule", "strokeWidth": 1.3},
          "encoding": {
            "x": {"field": "run", "type": "quantitative", "scale": {"domain": [17.5, 31.5], "nice": false, "zero": false}, "axis": {"orient": "top", "values": [18,19,20,21,22,23,24,25,26,27,28,29,30,31], "labels": false, "title": null, "tickSize": -5}},
            "y": {"field": "lo", "type": "quantitative", "axis": {"orient": "right", "values": [-14,-12,-10,-8,-6,-4,-2,0,2,4,6,8,10], "labels": false, "title": null, "tickSize": {"condition": {"test": "datum.value % 4 != 0", "value": -3.5}, "value": -6}}},
            "y2": {"field": "hi"},
            "color": {"field": "set", "type": "nominal", "scale": {"domain": ["A1","A2","A3","F1","F2"], "range": ["#0000ff","#ff0000","#800080","#007f00","#ff8000"]}, "legend": null}
          }},
        {"data": {"name": "runs"}, "transform": [{"filter": "datum.panel=='a1' && datum.run>=18"}], "mark": {"type": "tick", "orient": "horizontal", "size": 8, "thickness": 1.3},
          "encoding": {"x": {"field": "run", "type": "quantitative", "axis": null}, "y": {"field": "lo", "type": "quantitative", "axis": null}, "color": {"field": "set", "type": "nominal", "legend": null}}},
        {"data": {"name": "runs"}, "transform": [{"filter": "datum.panel=='a1' && datum.run>=18"}], "mark": {"type": "tick", "orient": "horizontal", "size": 8, "thickness": 1.3},
          "encoding": {"x": {"field": "run", "type": "quantitative", "axis": null}, "y": {"field": "hi", "type": "quantitative", "axis": null}, "color": {"field": "set", "type": "nominal", "legend": null}}},
        {"data": {"name": "runs"}, "transform": [{"filter": "datum.panel=='a1' && datum.run>=18"}], "mark": {"type": "point", "filled": true, "strokeWidth": 1.7, "opacity": 1},
          "encoding": {
            "x": {"field": "run", "type": "quantitative", "axis": {"orient": "bottom", "values": [18,19,20,21,22,23,24,25,26,27,28,29,30,31], "labelExpr": "datum.value % 2 == 0 && datum.value <= 30 ? toString(datum.value) : ''", "title": "Run Number", "tickSize": 6, "labelPadding": 4, "titlePadding": 8}},
            "y": {"field": "v", "type": "quantitative", "axis": {"orient": "left", "values": [-14,-12,-10,-8,-6,-4,-2,0,2,4,6,8,10], "labelExpr": "datum.value % 4 == 0 ? toString(datum.value) : ''", "title": "10⁷ a₁ (Hz⁻¹)", "tickSize": {"condition": {"test": "datum.value % 4 != 0", "value": 3.5}, "value": 6}, "labelPadding": 3, "titlePadding": 6}},
            "shape": {"condition": {"test": "datum.run >= 18", "value": "triangle-up"}, "value": "circle"},
            "size": {"condition": {"test": "datum.run >= 18", "value": 130}, "value": 80},
            "fill": {"field": "set", "type": "nominal", "scale": {"domain": ["A1","A2","A3","F1","F2"], "range": ["#0000ff","#ffffff","#ffffff","#007f00","#ffffff"]}, "legend": null},
            "stroke": {"field": "set", "type": "nominal", "scale": {"domain": ["A1","A2","A3","F1","F2"], "range": ["#0000ff","#ff0000","#800080","#007f00","#ff8000"]}, "legend": null}
          }},
        {"data": {"name": "notes"}, "transform": [{"filter": "datum.panel=='a1' && datum.row=='F' && datum.kind=='chi'"}], "mark": {"type": "text", "align": "left", "baseline": "middle", "fontSize": 22},
          "encoding": {"x": {"field": "x", "type": "quantitative", "axis": null}, "y": {"field": "y", "type": "quantitative", "axis": null}, "text": {"field": "text"}}},
        {"data": {"name": "notes"}, "transform": [{"filter": "datum.panel=='a1' && datum.row=='F' && datum.kind=='chi'"}], "mark": {"type": "text", "align": "right", "baseline": "middle", "fontSize": 22, "dx": -8},
          "encoding": {"x": {"field": "x", "type": "quantitative", "axis": null}, "y": {"field": "y", "type": "quantitative", "axis": null}, "text": {"value": "χ"}}},
        {"data": {"name": "notes"}, "transform": [{"filter": "datum.panel=='a1' && datum.row=='F' && datum.kind=='chi'"}], "mark": {"type": "text", "align": "left", "baseline": "middle", "fontSize": 13, "dx": -8, "dy": -10},
          "encoding": {"x": {"field": "x", "type": "quantitative", "axis": null}, "y": {"field": "y", "type": "quantitative", "axis": null}, "text": {"value": "2"}}},
        {"data": {"name": "notes"}, "transform": [{"filter": "datum.panel=='a1' && datum.row=='F' && datum.kind=='chi'"}], "mark": {"type": "text", "align": "left", "baseline": "middle", "fontSize": 13, "dx": -8, "dy": 8},
          "encoding": {"x": {"field": "x", "type": "quantitative", "axis": null}, "y": {"field": "y", "type": "quantitative", "axis": null}, "text": {"value": "ν"}}}
      ],
      "resolve": {"axis": {"x": "independent", "y": "independent"}}
    }
  ]
}
